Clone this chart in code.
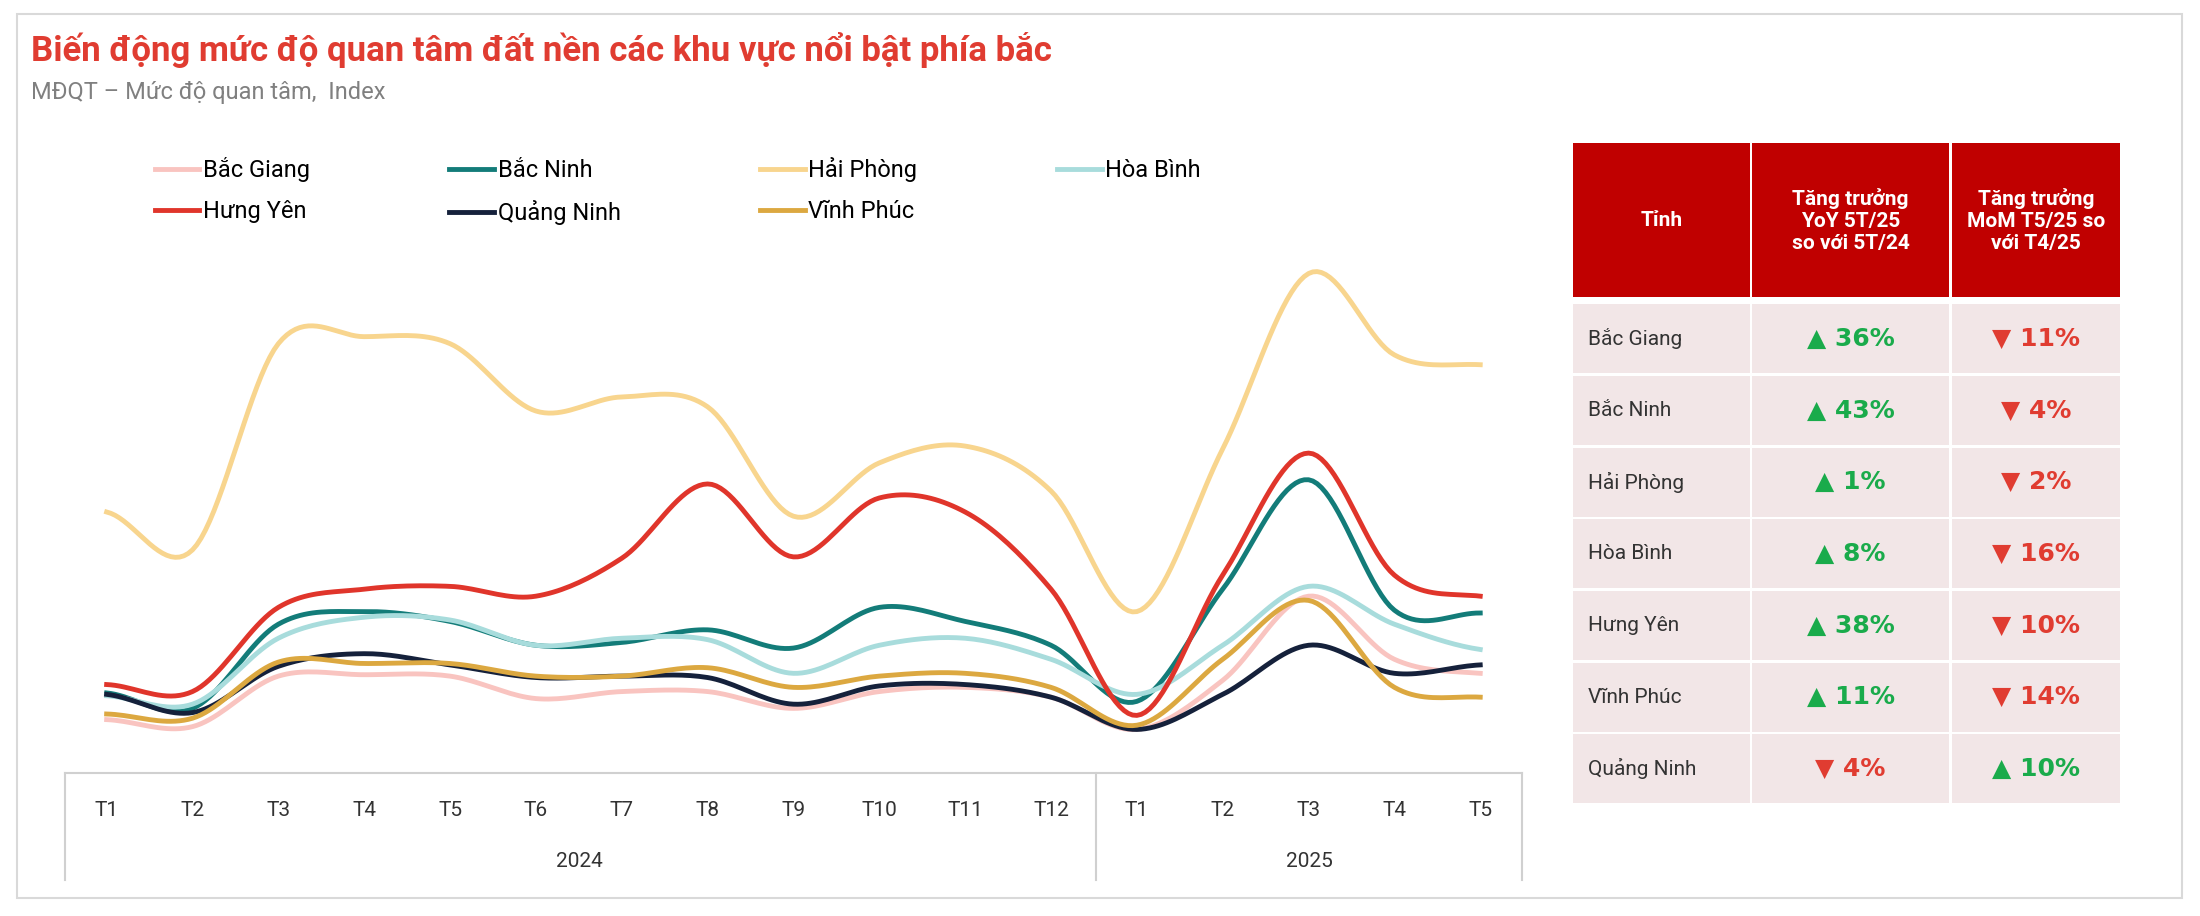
import numpy as np, pandas as pd, seaborn as sns
import matplotlib
matplotlib.use("Agg")
import matplotlib.pyplot as plt
from matplotlib.patches import Rectangle
from matplotlib.lines import Line2D

plt.rcParams["font.family"] = ["Roboto", "DejaVu Sans"]

months = ["T1","T2","T3","T4","T5","T6","T7","T8","T9","T10","T11","T12","T1","T2","T3","T4","T5"]
years = ["2024", "2025"]
bac_giang = [87,82,118,119,118,102,107,107,95,107,110,103,80,115,175,130,120]
bac_ninh = [106,95,155,164,157,140,142,151,138,167,157,140,100,180,258,165,163]
hai_phong = [235,208,355,360,355,307,317,310,232,270,282,250,164,280,405,347,340]
hoa_binh = [104,98,145,160,158,140,145,144,120,140,145,130,105,140,182,155,137]
hung_yen = [112,107,167,180,182,175,202,255,203,245,235,180,90,190,277,190,175]
quang_ninh = [105,92,125,134,126,117,118,117,98,111,112,103,80,105,140,120,126]
vinh_phuc = [91,88,128,127,127,118,118,124,110,118,120,110,83,130,172,110,103]
series = {"Bắc Giang": bac_giang, "Bắc Ninh": bac_ninh, "Hải Phòng": hai_phong,
          "Hòa Bình": hoa_binh, "Hưng Yên": hung_yen, "Quảng Ninh": quang_ninh,
          "Vĩnh Phúc": vinh_phuc}
colors = {"Bắc Giang": "#f9c4c0", "Bắc Ninh": "#137c79", "Hải Phòng": "#f8d58e",
          "Hòa Bình": "#a8dcdc", "Hưng Yên": "#e0352b", "Quảng Ninh": "#15213b",
          "Vĩnh Phúc": "#dca840"}
table_rows = ["Bắc Giang","Bắc Ninh","Hải Phòng","Hòa Bình","Hưng Yên","Vĩnh Phúc","Quảng Ninh"]
yoy = [36, 43, 1, 8, 38, 11, -4]
mom = [-11, -4, -2, -16, -10, -14, 10]

def smooth(y, n=20):
    y = np.asarray(y, float); m = len(y)
    p = np.concatenate([[y[0]], y, [y[-1]]])
    xs, ys = [], []
    for i in range(m - 1):
        p0, p1, p2, p3 = p[i], p[i+1], p[i+2], p[i+3]
        t = np.linspace(0, 1, n, endpoint=False)
        v = 0.5*((2*p1) + (-p0+p2)*t + (2*p0-5*p1+4*p2-p3)*t**2 + (-p0+3*p1-3*p2+p3)*t**3)
        xs.extend(i + t); ys.extend(v)
    xs.append(m - 1); ys.append(y[-1])
    return np.array(xs), np.array(ys)

rows = []
for name, vals in series.items():
    xs, ys = smooth(vals)
    rows.append(pd.DataFrame({"x": xs, "y": ys, "Tỉnh": name}))
df = pd.concat(rows)

W, H = 1568, 653
fig = plt.figure(figsize=(22, 9.16), dpi=100)
fig.patch.set_facecolor("white")
def fx(x): return x / W
def fy(y): return 1 - y / H

bg = fig.add_axes([0, 0, 1, 1]); bg.set_xlim(0, W); bg.set_ylim(H, 0); bg.axis("off")
bg.add_patch(Rectangle((12, 10), 1543, 630, fill=False, ec="#d9d9d9", lw=1.5))
fig.text(fx(22), fy(36), "Biến động mức độ quan tâm đất nền các khu vực nổi bật phía bắc",
         color="#e03c31", fontsize=25, fontweight="bold", va="center")
fig.text(fx(22), fy(66), "MĐQT – Mức độ quan tâm,  Index", color="#808080", fontsize=17, va="center")

ax = fig.add_axes([fx(46), fy(551), fx(1085 - 46), fy(170) - fy(551)])
sns.lineplot(data=df, x="x", y="y", hue="Tỉnh", palette=colors, linewidth=3.5,
             sort=False, estimator=None, ax=ax, legend=False)
ax.set_xlim(-30.0/61.2, 16 + 30.0/61.2)
ax.set_ylim(49, 430)
ax.axis("off")

for x in (46, 781, 1085):
    bg.plot([x, x], [551, 627], color="#d0d0d0", lw=1.5)
bg.plot([46, 1085], [551, 551], color="#d0d0d0", lw=1.5)
for i, m in enumerate(months):
    bg.text(76 + i * 61.2, 578, m, ha="center", va="center", fontsize=15, color="#333333")
bg.text(413, 614, years[0], ha="center", va="center", fontsize=15, color="#333333")
bg.text(933, 614, years[1], ha="center", va="center", fontsize=15, color="#333333")

order = ["Bắc Giang", "Hưng Yên", "Bắc Ninh", "Quảng Ninh", "Hải Phòng", "Vĩnh Phúc", "Hòa Bình"]
handles = [Line2D([], [], color=colors[n], lw=3.5) for n in order]
fig.legend(handles, order, ncol=4, loc="upper left", bbox_to_anchor=(fx(95), fy(97)),
           frameon=False, fontsize=17, handlelength=1.9, handletextpad=0.15,
           columnspacing=5.9, labelspacing=0.75)

cols = [1120, 1248, 1390, 1512]
top, hb, rh = 102, 212, 51.1
for c in range(3):
    bg.add_patch(Rectangle((cols[c] + 1, top), cols[c+1] - cols[c] - 2, hb - top, fc="#c00000", ec="none"))
heads = ["Tỉnh", "Tăng trưởng\nYoY 5T/25\nso với 5T/24", "Tăng trưởng\nMoM T5/25 so\nvới T4/25"]
for c, h in enumerate(heads):
    bg.text((cols[c] + cols[c+1]) / 2, (top + hb) / 2, h, ha="center", va="center", color="white",
            fontsize=15, fontweight="bold", linespacing=1.2)
def fmt(v):
    return ("▲ " if v >= 0 else "▼ ") + f"{abs(v)}%", ("#1aab4b" if v >= 0 else "#e03c31")
for r, name in enumerate(table_rows):
    y0 = hb + 4 + r * rh
    for c in range(3):
        bg.add_patch(Rectangle((cols[c] + 1, y0 + 1), cols[c+1] - cols[c] - 2, rh - 2, fc="#f2e6e7", ec="none"))
    yc = y0 + rh / 2
    bg.text(cols[0] + 12, yc, name, ha="left", va="center", fontsize=15, color="#333333")
    for c, v in ((1, yoy[r]), (2, mom[r])):
        t, col = fmt(v)
        bg.text((cols[c] + cols[c+1]) / 2, yc, t, ha="center", va="center", fontsize=18,
                fontweight="bold", color=col, family=["DejaVu Sans"])

fig.savefig("out.png", dpi=100, facecolor="white")
